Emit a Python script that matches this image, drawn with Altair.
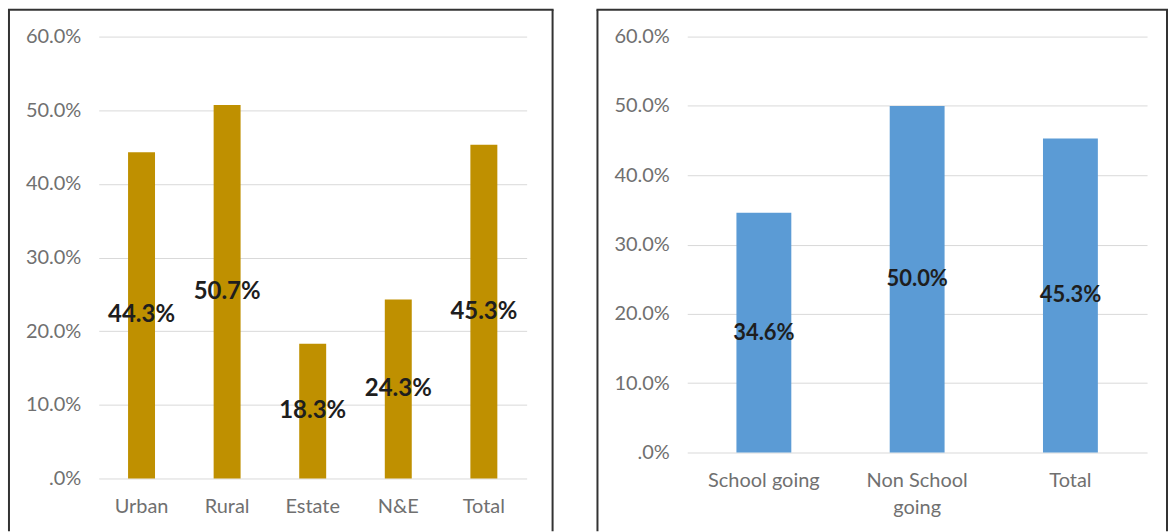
import altair as alt
import pandas as pd

# Left chart data
area_cats = ["Urban", "Rural", "Estate", "N&E", "Total"]
area_vals = [0.443, 0.507, 0.183, 0.243, 0.453]

# Right chart data
school_cats = ["School going", "Non School going", "Total"]
school_vals = [0.346, 0.500, 0.453]

y_ticks = [0.0, 0.1, 0.2, 0.3, 0.4, 0.5, 0.6]

FONT = "Lato"
AXIS_GRAY = "#707070"
BORDER = "#333333"


def panel(cats, vals, color, w, h, pad_inner, right_ext, label_size, multiline=False):
    df = pd.DataFrame({"cat": cats, "v": vals})
    label_expr = "datum.value"
    if multiline:
        label_expr = "datum.value == 'Non School going' ? ['Non School', 'going'] : datum.value"
    x = alt.X(
        "cat:N",
        sort=None,
        title=None,
        scale=alt.Scale(paddingInner=pad_inner, paddingOuter=pad_inner / 2),
        axis=alt.Axis(
            labelAngle=0,
            domain=False,
            ticks=False,
            tickSize=0,
            labelPadding=18,
            labelFont=FONT,
            labelFontSize=20,
            labelColor=AXIS_GRAY,
            labelLineHeight=27,
            labelExpr=label_expr,
        ),
    )
    y = alt.Y(
        "v:Q",
        title=None,
        scale=alt.Scale(domain=[0, 0.6], nice=False),
        axis=alt.Axis(
            values=y_ticks,
            domain=False,
            ticks=False,
            tickSize=0,
            labelPadding=18,
            labelFont=FONT,
            labelFontSize=20,
            labelColor=AXIS_GRAY,
            gridColor="#d9d9d9",
            gridWidth=1,
            labelExpr="datum.value == 0 ? '.0%' : format(datum.value, '.1%')",
        ),
    )
    base = alt.Chart(df)
    bars = base.mark_bar(color=color).encode(x=x, y=y)
    texts = (
        base.transform_calculate(mid="datum.v / 2")
        .mark_text(font=FONT, fontWeight="bold", fontSize=label_size, color="#1e1e1e")
        .encode(
            x=alt.X("cat:N", sort=None),
            y=alt.Y("mid:Q"),
            text=alt.Text("v:Q", format=".1%"),
        )
    )
    one = alt.Chart(alt.Data(values=[{"a": 1}]))
    bottom = 532 - 36
    left_rule = one.mark_rule(color=BORDER, strokeWidth=2).encode(
        x=alt.value(-90), y=alt.value(-27), y2=alt.value(bottom)
    )
    right_rule = one.mark_rule(color=BORDER, strokeWidth=2).encode(
        x=alt.value(right_ext), y=alt.value(-27), y2=alt.value(bottom)
    )
    top_rule = one.mark_rule(color=BORDER, strokeWidth=2).encode(
        x=alt.value(-91), x2=alt.value(right_ext + 1), y=alt.value(-27)
    )
    return alt.layer(bars, texts, left_rule, right_rule, top_rule).properties(
        width=w, height=h
    )


left = panel(area_cats, area_vals, "#BF9000", 429, 443, 0.685, 455, 24)
right = panel(school_cats, school_vals, "#5B9BD5", 461, 417, 0.642, 481, 22, multiline=True)

chart = (
    alt.hconcat(left, right, spacing=41)
    .properties(padding={"left": 7, "top": 8, "right": 0, "bottom": 0}, background="white")
    .configure_view(stroke=None)
)

chart.save("out.html", embed_options={"renderer": "svg", "actions": False})
